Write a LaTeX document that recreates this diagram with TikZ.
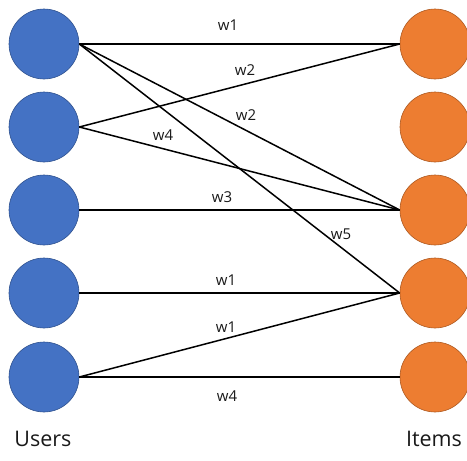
\documentclass[tikz,border=0pt]{standalone}
\usepackage{fontspec}
\setmainfont{Open Sans}
\definecolor{ublue}{HTML}{4472C4}
\definecolor{ubluee}{HTML}{2F528F}
\definecolor{iorange}{HTML}{ED7D31}
\definecolor{iorangee}{HTML}{AE5A21}
\begin{document}
\begin{tikzpicture}[x=1pt,y=-1pt,
  user/.style={circle,fill=ublue,draw=ubluee,line width=0.6pt,minimum size=70pt,inner sep=0pt},
  item/.style={circle,fill=iorange,draw=iorangee,line width=0.6pt,minimum size=70pt,inner sep=0pt},
  edge/.style={line width=1.5pt,black},
  wlab/.style={font=\fontsize{15}{17}\selectfont,text=black!90,inner sep=0pt},
  side/.style={font=\fontsize{21.5}{24}\selectfont,text=black!90,inner sep=0pt,anchor=base}]
\useasboundingbox (0,0) rectangle (467,461);
\foreach \i/\y in {1/44,2/127,3/210,4/293,5/377}{
  \node[user] (u\i) at (44,\y) {};
  \node[item] (i\i) at (435,\y) {};
}
\draw[edge] (u1.east) -- (i1.west);
\draw[edge] (u1.east) -- (i3.west);
\draw[edge] (u1.east) -- (i4.west);
\draw[edge] (u2.east) -- (i1.west);
\draw[edge] (u2.east) -- (i3.west);
\draw[edge] (u3.east) -- (i3.west);
\draw[edge] (u4.east) -- (i4.west);
\draw[edge] (u5.east) -- (i4.west);
\draw[edge] (u5.east) -- (i5.west);
\node[wlab] (l1) at (228,25) {w1};
\node[wlab] (l2) at (245,70) {w2};
\node[wlab] (l3) at (246,115) {w2};
\node[wlab] (l4) at (163,135) {w4};
\node[wlab] (l5) at (222,197) {w3};
\node[wlab] (l6) at (341,234) {w5};
\node[wlab] (l7) at (226,280) {w1};
\node[wlab] (l8) at (226,327) {w1};
\node[wlab] (l9) at (227,396) {w4};
\node[side] (users) at (43,446) {Users};
\node[side] (items) at (434,446) {Items};
\end{tikzpicture}
\end{document}
